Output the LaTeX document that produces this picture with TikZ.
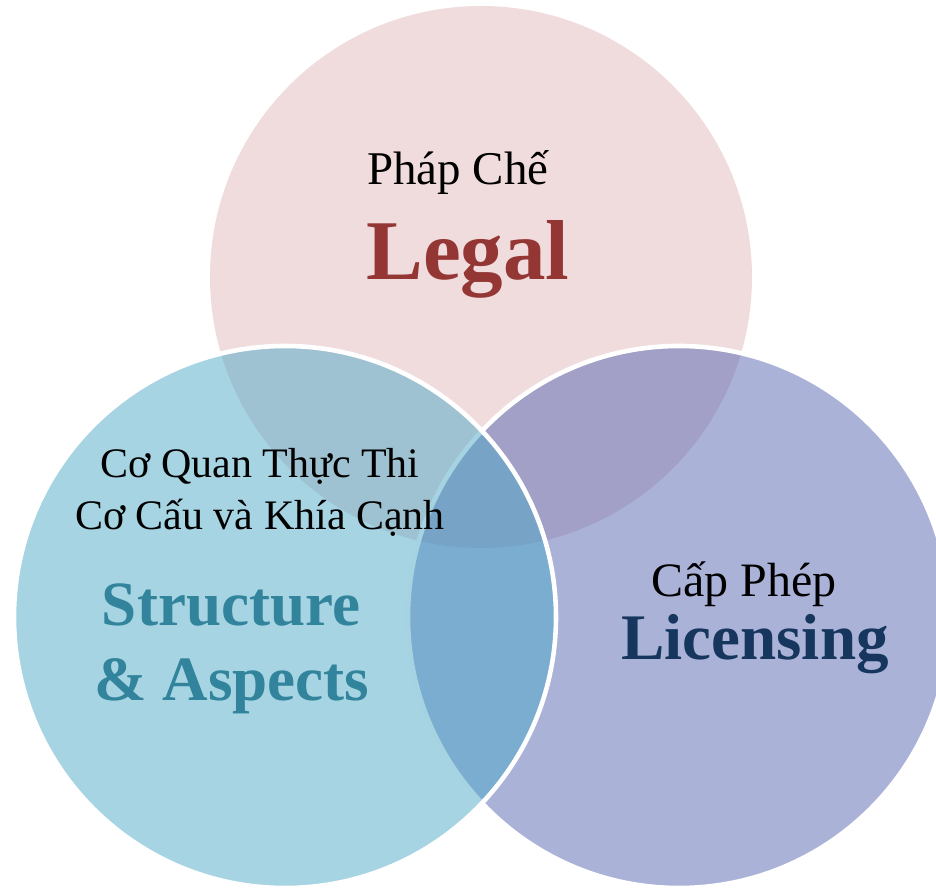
\documentclass[tikz,border=0pt]{standalone}
\usepackage{fontspec}
\setmainfont{Liberation Serif}
\usepackage{tikz}
\usepackage{xcolor}

\definecolor{legalred}{RGB}{148,54,52}
\definecolor{aquadark}{RGB}{49,132,155}
\definecolor{navydark}{RGB}{23,54,93}
\definecolor{pinkfill}{RGB}{226,186,188}
\definecolor{tealfill}{RGB}{77,169,199}
\definecolor{bluefill}{RGB}{85,101,177}

\begin{document}
\begin{tikzpicture}[
  venn/.style={
    circle,
    minimum size=10.84cm,
    inner sep=0pt,
    fill opacity=0.5,
    draw opacity=1,
    line width=2.6pt
  },
  viet/.style={
    anchor=base,
    text=black,
    inner sep=0pt
  },
  title/.style={
    anchor=base,
    inner sep=0pt,
    font=\bfseries
  }
]
  \useasboundingbox (0,0) rectangle (18.72,17.78);

  \node[venn, fill=pinkfill] (legalset) at (9.62,12.24) {};
  \node[venn, fill=bluefill, draw=white] (licset) at (13.58,5.44) {};
  \node[venn, fill=tealfill, draw=white] (structset) at (5.70,5.44) {};

  \node[viet, font=\fontsize{26.7}{32}\selectfont] (phapche) at (9.16,14.08) {Pháp Chế};
  \node[title, text=legalred, font=\fontsize{48.4}{56}\selectfont\bfseries] (legal) at (9.36,12.18) {Legal};

  \node[viet, font=\fontsize{23.9}{29}\selectfont] (coquan) at (5.20,8.22) {Cơ Quan Thực Thi};
  \node[viet, font=\fontsize{23.9}{29}\selectfont] (cocau) at (5.20,7.18) {Cơ Cấu và Khía Cạnh};
  \node[title, text=aquadark, font=\fontsize{35.9}{42}\selectfont\bfseries] (structure) at (4.62,5.26) {Structure};
  \node[title, text=aquadark, font=\fontsize{35.9}{42}\selectfont\bfseries] (aspects) at (4.64,3.76) {\& Aspects};

  \node[viet, font=\fontsize{27.3}{33}\selectfont] (capphep) at (14.88,5.84) {Cấp Phép};
  \node[title, text=navydark, font=\fontsize{37}{44}\selectfont\bfseries] (licensing) at (15.10,4.58) {Licensing};
\end{tikzpicture}
\end{document}
